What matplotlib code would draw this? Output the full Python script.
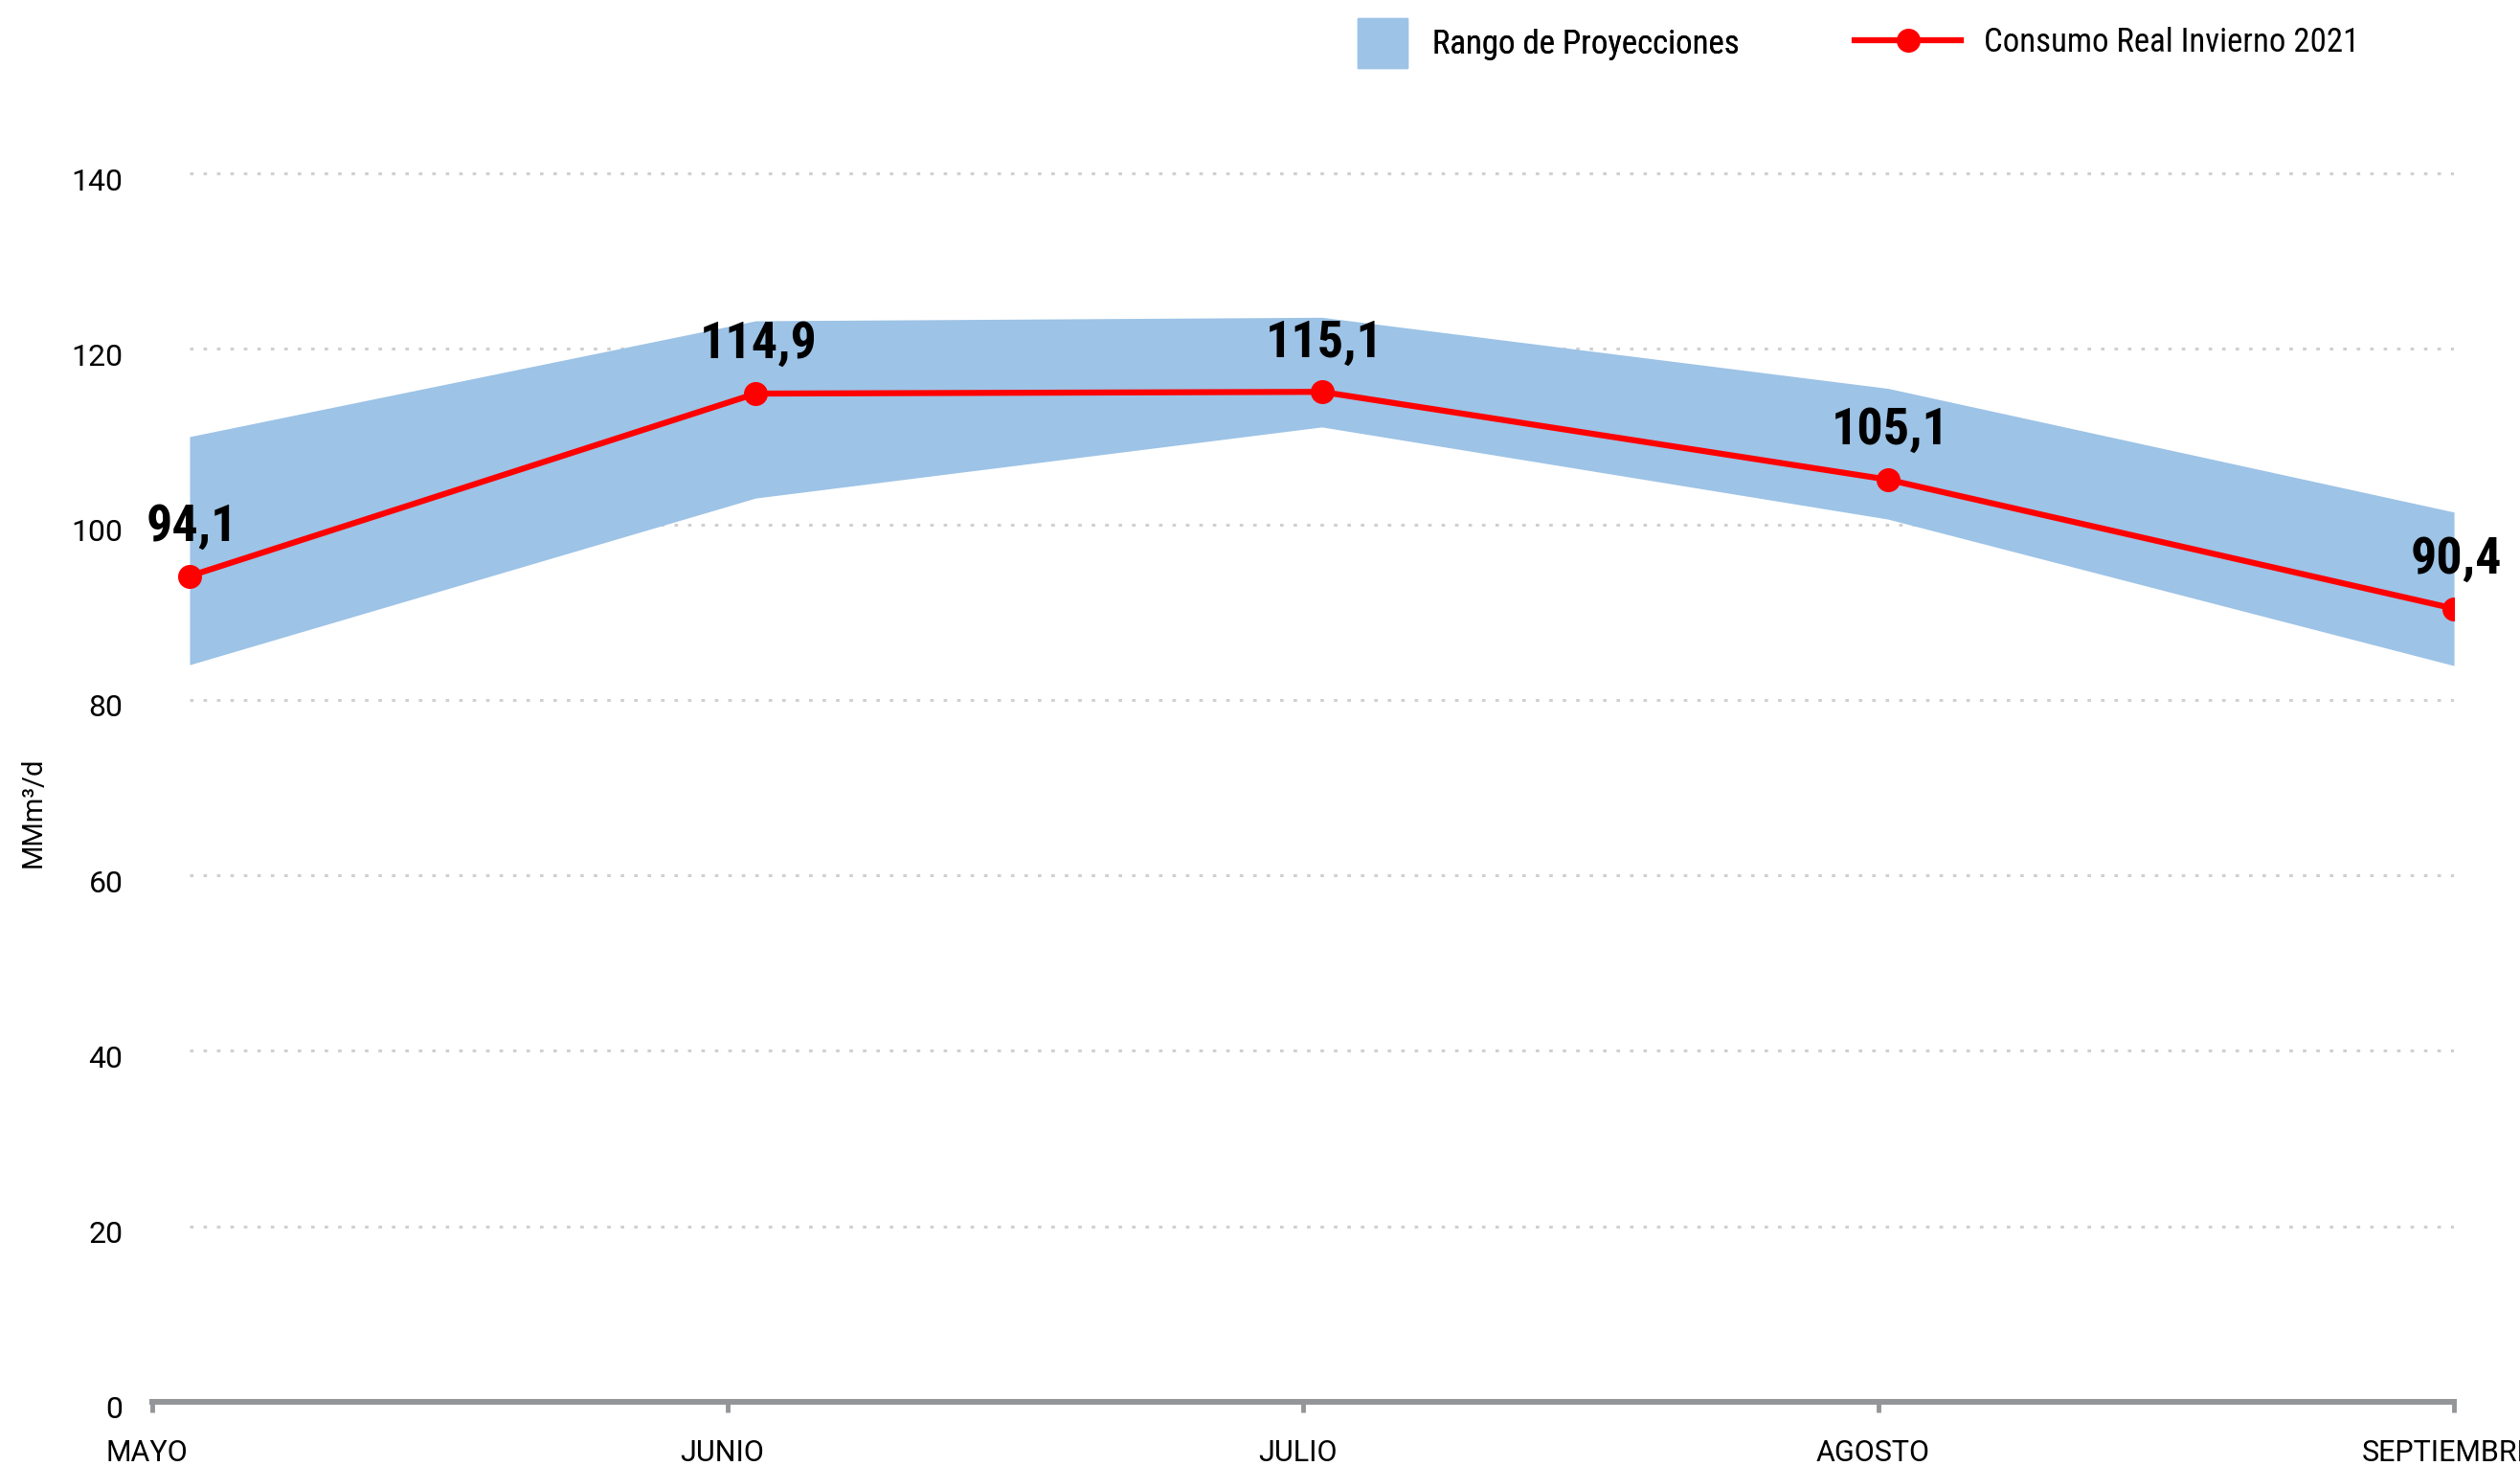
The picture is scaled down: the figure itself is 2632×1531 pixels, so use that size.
import numpy as np
import matplotlib
matplotlib.use("Agg")
import matplotlib.pyplot as plt
import matplotlib.patches as mpatches
import matplotlib.transforms as mtransforms
from matplotlib.lines import Line2D
from matplotlib import font_manager

# Datos del grafico

meses = ["MAYO", "JUNIO", "JULIO", "AGOSTO", "SEPTIEMBRE"]
consumo_real = [94.1, 114.9, 115.1, 105.1, 90.4]
proyeccion_max = [110.0, 123.2, 123.6, 115.5, 101.4]
proyeccion_min = [84.0, 103.0, 111.1, 100.6, 83.9]
marcas_y = [0, 20, 40, 60, 80, 100, 120, 140]

# Fuentes

nombres = {f.name for f in font_manager.fontManager.ttflist}
fuente = "Roboto" if "Roboto" in nombres else "DejaVu Sans"
fuente_etiquetas = fuente
for candidata in ["Roboto Condensed", "Liberation Sans Narrow"]:
    if candidata in nombres:
        fuente_etiquetas = candidata
        break
plt.rcParams["font.family"] = [fuente, "DejaVu Sans"]

color_banda = "#9DC3E6"
color_linea = "#FF0000"
color_eje = "#939598"

fig = plt.figure(figsize=(26.32, 15.31), dpi=100)
ax = fig.add_axes([0.0604, 0.0438, 0.9134, 0.8978])

x = np.arange(len(meses))
ax.set_xlim(-0.066, len(meses) - 1)
ax.set_ylim(0, 150)

# Lineas de grilla punteadas
for y in marcas_y[1:]:
    ax.hlines(y, x[0], x[-1], colors="#d0d0d0", linewidth=2.2,
              linestyles=(0, (1.2, 3.4)), zorder=1)

ax.fill_between(x, proyeccion_min, proyeccion_max, color=color_banda,
                linewidth=0, zorder=2)
ax.plot(x, consumo_real, color=color_linea, linewidth=4.5, marker="o",
        markersize=17, zorder=3)

for xi, v in zip(x, consumo_real):
    ax.annotate(f"{v:.1f}".replace(".", ","), (xi, v), xytext=(2, 37),
                textcoords="offset points", ha="center", va="center",
                fontsize=39, fontweight="bold", family=fuente_etiquetas,
                zorder=4)

# Ejes
ax.set_xticks(np.linspace(-0.066, len(meses) - 1, len(meses)))
ax.set_xticklabels(meses)
ax.set_yticks(marcas_y)
ax.tick_params(axis="x", length=8, width=3.5, color=color_eje, pad=20,
               labelsize=22)
ax.tick_params(axis="y", length=0, pad=22, labelsize=23)
for lado in ["left", "top", "right"]:
    ax.spines[lado].set_visible(False)
ax.spines["bottom"].set_color(color_eje)
ax.spines["bottom"].set_linewidth(4.3)

# pequeños desplazamientos de las etiquetas de los ejes
desp_x = mtransforms.ScaledTranslation(-6 / 100, 0, fig.dpi_scale_trans)
for etiqueta in ax.get_xticklabels():
    etiqueta.set_transform(etiqueta.get_transform() + desp_x)
desp_y = mtransforms.ScaledTranslation(0, -6 / 100, fig.dpi_scale_trans)
for etiqueta in ax.get_yticklabels():
    etiqueta.set_transform(etiqueta.get_transform() + desp_y)

fig.text(0.013, 1 - 848 / 1531, "MMm³/d", rotation=90, ha="center",
         va="center", fontsize=21)

# Leyenda
leg1 = fig.legend(handles=[mpatches.Patch(color=color_banda)],
                  labels=["Rango de Proyecciones"], loc="center left",
                  bbox_to_anchor=(1418 / 2632, 1 - 45 / 1531), frameon=False,
                  prop={"family": fuente_etiquetas, "size": 25},
                  handlelength=1.5, handleheight=1.9,
                  handletextpad=0.75, borderpad=0, borderaxespad=0)
leg2 = fig.legend(handles=[Line2D([], [], color=color_linea, linewidth=4.5,
                                  marker="o", markersize=17)],
                  labels=["Consumo Real Invierno 2021"], loc="center left",
                  bbox_to_anchor=(1937 / 2632, 1 - 45 / 1531), frameon=False,
                  prop={"family": fuente_etiquetas, "size": 25},
                  handlelength=3.2, handletextpad=0.7,
                  borderpad=0, borderaxespad=0)
fig.add_artist(leg1)

fig.savefig("out.png", dpi=100)
